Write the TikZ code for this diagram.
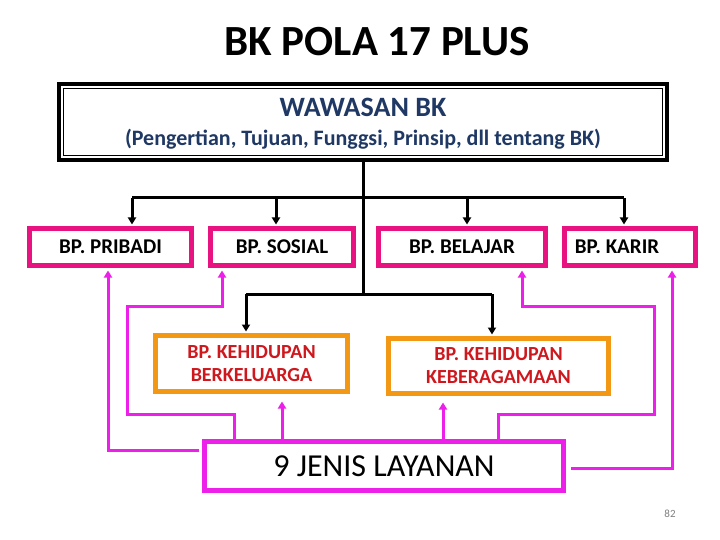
\documentclass[tikz,border=0pt]{standalone}
\usepackage{fontspec}
\setmainfont{Carlito}
\usetikzlibrary{arrows.meta}
\definecolor{pinkbox}{RGB}{232,18,128}
\definecolor{magline}{RGB}{236,32,232}
\definecolor{orangebox}{RGB}{243,152,20}
\definecolor{darkred}{RGB}{206,24,30}
\definecolor{navy}{RGB}{31,56,100}
\begin{document}
\begin{tikzpicture}[x=1pt,y=-1pt,
  pbox/.style={draw=pinkbox,fill=white,line width=5pt,inner sep=0pt,outer sep=0pt,minimum height=37pt,font=\bfseries\fontsize{21}{24}\selectfont},
  obox/.style={draw=orangebox,fill=white,line width=5pt,inner sep=0pt,outer sep=0pt,font=\bfseries\fontsize{20}{23}\selectfont,text=darkred,align=center},
  blk/.style={line width=3pt,black},
  blkarr/.style={blk,-{Triangle[length=7pt,width=8pt]},shorten >=4pt},
  mag/.style={line width=3pt,magline},
  magarr/.style={mag,-{Triangle[length=7pt,width=8pt]},shorten >=5pt},
]
\fill[white] (0,0) rectangle (720,540);
\useasboundingbox (0,0) rectangle (720,540);

\node[font=\bfseries\fontsize{43}{46}\selectfont] (title) at (377,42) {BK POLA 17 PLUS};

% top box
\node[draw,fill=white,line width=3.5pt,minimum width=608pt,minimum height=76pt,inner sep=0pt,outer sep=0pt] (top) at (363,122) {};
\draw[line width=1pt] ([shift={(4.5,4.5)}]top.north west) rectangle ([shift={(-4.5,-4.5)}]top.south east);
\node[text=navy,font=\bfseries\fontsize{28}{30}\selectfont] (ww) at (363,107) {WAWASAN BK};
\node[text=navy,font=\bfseries\fontsize{22}{24}\selectfont] (sub) at (363,139) {(Pengertian, Tujuan, Funggsi, Prinsip, dll tentang BK)};

% pink boxes
\node[pbox,minimum width=162pt] (pribadi) at (110.5,247) {BP. PRIBADI};
\node[pbox,minimum width=143pt] (sosial) at (282,247) {BP. SOSIAL};
\node[pbox,minimum width=167pt] (belajar) at (462,247) {BP. BELAJAR};
\node[pbox,minimum width=131pt] (karir) at (630,247) {BP. KARIR\kern 26pt};

% orange boxes
\node[obox,minimum width=192pt,minimum height=56pt] (keluarga) at (251.5,363.5) {BP. KEHIDUPAN\\BERKELUARGA};
\node[obox,minimum width=220pt,minimum height=55pt] (agama) at (498.5,366) {BP. KEHIDUPAN\\KEBERAGAMAAN};

% black connectors
\coordinate (a1) at (132,198);
\coordinate (a2) at (276,198);
\coordinate (a3) at (467,198);
\coordinate (a4) at (624,198);
\coordinate (b1) at (246,294);
\coordinate (b2) at (492,294);
\draw[blk] (top.south) -- (top.south |- b1);
\draw[blk] (a1) -- (a4);
\draw[blkarr] (a1) -- (a1 |- pribadi.north);
\draw[blkarr] (a2) -- (a2 |- sosial.north);
\draw[blkarr] (a3) -- (a3 |- belajar.north);
\draw[blkarr] (a4) -- (a4 |- karir.north);
\draw[blk] (b1) -- (b2);
\draw[blkarr] (b1) -- (b1 |- keluarga.north);
\draw[blkarr] (b2) -- (b2 |- agama.north);

% bottom box
\node[draw=magline,fill=white,line width=5pt,minimum width=359pt,minimum height=49pt,inner sep=0pt,outer sep=0pt,font=\fontsize{32}{34}\selectfont] (layanan) at (384,466) {9 JENIS LAYANAN};

% magenta connectors
\coordinate (m1) at (198.5,450);
\coordinate (m2) at (234,414);
\coordinate (m3) at (282,400);
\coordinate (m4) at (443,400);
\coordinate (m5) at (498,414);
\coordinate (m6) at (571,468);
\draw[magarr] (m1) -| (108,0 |- pribadi.south);
\draw[magarr] (layanan.north -| m2) -- (m2) -- (127,414) -- (127,306) -- (222,306) -- (222,0 |- sosial.south);
\draw[magarr,shorten >=10pt] (layanan.north -| m3) -- (m3 |- keluarga.south);
\draw[magarr,shorten >=9pt] (layanan.north -| m4) -- (m4 |- agama.south);
\draw[magarr] (layanan.north -| m5) -- (m5) -- (654,414) -- (654,306) -- (522,306) -- (522,0 |- belajar.south);
\draw[magarr] (m6) -| (672,0 |- karir.south);

\node[text=gray,font=\fontsize{11}{12}\selectfont] (pg) at (670,514) {82};
\end{tikzpicture}
\end{document}
